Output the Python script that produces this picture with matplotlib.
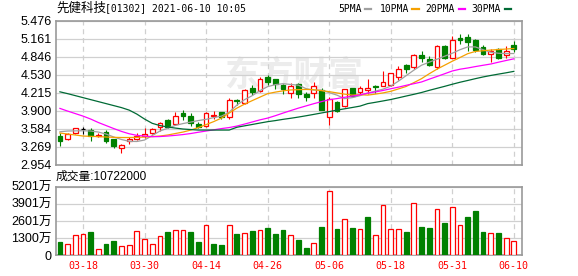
import matplotlib
matplotlib.use("Agg")
import matplotlib.pyplot as plt
import numpy as np

# K线数据 (2021-03-15 .. 2021-06-10)
dates = ["03-15", "03-16", "03-17", "03-18", "03-19", "03-22", "03-23", "03-24", "03-25", "03-26",
         "03-29", "03-30", "03-31", "04-01", "04-07", "04-08", "04-09", "04-12", "04-13", "04-14",
         "04-15", "04-16", "04-19", "04-20", "04-21", "04-22", "04-23", "04-26", "04-27", "04-28",
         "04-29", "04-30", "05-03", "05-04", "05-05", "05-06", "05-07", "05-10", "05-11", "05-12",
         "05-13", "05-14", "05-17", "05-18", "05-20", "05-21", "05-24", "05-25", "05-26", "05-27",
         "05-28", "05-31", "06-01", "06-02", "06-03", "06-04", "06-07", "06-08", "06-09", "06-10"]

opens = [3.457, 3.398, 3.504, 3.574, 3.562, 3.465, 3.533, 3.399, 3.247, 3.364,
         3.399, 3.457, 3.515, 3.609, 3.737, 3.662, 3.865, 3.807, 3.667, 3.632,
         3.800, 3.877, 3.795, 4.090, 4.030, 4.298, 4.240, 4.485, 4.450, 4.345,
         4.205, 4.362, 4.193, 4.205, 4.263, 3.784, 4.058, 3.982, 4.292, 4.222,
         4.257, 4.330, 4.338, 4.350, 4.495, 4.700, 4.670, 4.875, 4.806, 4.670,
         5.038, 4.828, 5.170, 5.196, 5.138, 5.021, 4.905, 4.993, 4.888, 5.050]
highs = [3.515, 3.505, 3.600, 3.620, 3.592, 3.510, 3.562, 3.410, 3.317, 3.445,
         3.510, 3.590, 3.600, 3.700, 3.760, 3.880, 3.910, 3.860, 3.700, 3.880,
         3.900, 3.877, 4.120, 4.105, 4.290, 4.350, 4.490, 4.525, 4.450, 4.370,
         4.380, 4.380, 4.230, 4.400, 4.300, 4.140, 4.080, 4.290, 4.292, 4.330,
         4.455, 4.360, 4.595, 4.570, 4.680, 4.730, 4.905, 4.945, 4.860, 5.050,
         5.060, 5.210, 5.255, 5.240, 5.160, 5.050, 4.990, 5.000, 5.040, 5.120]
lows = [3.282, 3.385, 3.495, 3.492, 3.375, 3.440, 3.340, 3.250, 3.165, 3.312,
        3.380, 3.430, 3.490, 3.540, 3.590, 3.650, 3.740, 3.630, 3.590, 3.620,
        3.750, 3.760, 3.760, 4.000, 4.020, 4.170, 4.230, 4.350, 4.290, 4.190,
        4.130, 4.120, 4.080, 4.130, 3.910, 3.645, 3.880, 3.970, 4.140, 4.190,
        4.187, 4.205, 4.338, 4.330, 4.440, 4.570, 4.630, 4.760, 4.690, 4.640,
        4.810, 4.820, 5.080, 4.945, 4.930, 4.880, 4.760, 4.810, 4.830, 4.930]
closes = [3.370, 3.490, 3.592, 3.574, 3.457, 3.480, 3.375, 3.282, 3.294, 3.399,
          3.457, 3.490, 3.574, 3.679, 3.620, 3.807, 3.812, 3.679, 3.620, 3.865,
          3.820, 3.784, 4.087, 4.080, 4.263, 4.228, 4.450, 4.403, 4.368, 4.275,
          4.333, 4.193, 4.146, 4.333, 3.912, 4.100, 3.900, 4.286, 4.158, 4.303,
          4.298, 4.310, 4.397, 4.555, 4.642, 4.640, 4.875, 4.835, 4.700, 5.033,
          4.828, 5.138, 5.150, 5.108, 4.963, 4.905, 4.945, 4.818, 4.945, 4.993]

ma5 = [3.532, 3.545, 3.548, 3.550, 3.545, 3.527, 3.492, 3.440, 3.396, 3.364,
       3.361, 3.387, 3.466, 3.545, 3.594, 3.644, 3.676, 3.702, 3.729, 3.750,
       3.781, 3.807, 3.877, 4.000, 4.096, 4.166, 4.254, 4.324, 4.359, 4.376,
       4.362, 4.350, 4.289, 4.263, 4.263, 4.219, 4.175, 4.114, 4.131, 4.166,
       4.210, 4.245, 4.280, 4.333, 4.420, 4.517, 4.613, 4.700, 4.753, 4.805,
       4.858, 4.910, 4.972, 5.021, 5.021, 4.972, 4.928, 4.910, 4.905, 4.905]
ma10 = [3.510, 3.492, 3.475, 3.457, 3.452, 3.447, 3.440, 3.434, 3.431, 3.431,
        3.434, 3.440, 3.448, 3.457, 3.475, 3.501, 3.527, 3.562, 3.606, 3.658,
        3.711, 3.772, 3.860, 3.947, 4.017, 4.079, 4.140, 4.201, 4.228, 4.250,
        4.266, 4.271, 4.275, 4.270, 4.254, 4.236, 4.214, 4.193, 4.175, 4.184,
        4.175, 4.193, 4.214, 4.242, 4.284, 4.327, 4.394, 4.464, 4.550, 4.630,
        4.700, 4.770, 4.835, 4.902, 4.942, 4.954, 4.966, 4.975, 4.984, 4.993]
ma20 = [3.942, 3.895, 3.851, 3.807, 3.755, 3.694, 3.641, 3.588, 3.538, 3.497,
        3.469, 3.457, 3.445, 3.448, 3.457, 3.469, 3.483, 3.501, 3.524, 3.545,
        3.566, 3.588, 3.606, 3.632, 3.667, 3.704, 3.741, 3.772, 3.814, 3.860,
        3.904, 3.947, 3.986, 4.025, 4.061, 4.095, 4.114, 4.137, 4.158, 4.179,
        4.210, 4.231, 4.257, 4.287, 4.315, 4.347, 4.376, 4.406, 4.455, 4.502,
        4.550, 4.599, 4.630, 4.651, 4.676, 4.699, 4.721, 4.753, 4.783, 4.812]
ma30 = [4.233, 4.201, 4.166, 4.131, 4.096, 4.061, 4.026, 3.991, 3.956, 3.912,
        3.842, 3.755, 3.680, 3.641, 3.615, 3.597, 3.580, 3.571, 3.562, 3.562,
        3.562, 3.562, 3.562, 3.611, 3.636, 3.660, 3.685, 3.709, 3.728, 3.750,
        3.769, 3.790, 3.813, 3.837, 3.862, 3.886, 3.912, 3.935, 3.958, 3.982,
        4.026, 4.049, 4.073, 4.098, 4.128, 4.159, 4.189, 4.221, 4.259, 4.294,
        4.329, 4.366, 4.401, 4.432, 4.464, 4.494, 4.520, 4.544, 4.567, 4.592]

# 成交量 (万)
volumes = [980, 882, 1562, 1638, 1739, 504, 832, 1058, 680, 806,
           1865, 1210, 882, 1436, 1739, 1890, 1890, 1739, 983, 2268,
           882, 756, 2268, 1588, 1714, 1814, 1890, 2066, 1588, 1890,
           1562, 1134, 529, 958, 2117, 4838, 1966, 2772, 2041, 1966,
           2873, 1562, 3830, 1966, 1966, 1739, 3982, 2117, 2041, 3478,
           2419, 3629, 2268, 2873, 3326, 1739, 1663, 1663, 1285, 1072]
vol_up = [0, 1, 1, 1, 0, 1, 0, 0, 1, 1,
          1, 1, 1, 1, 0, 1, 1, 0, 0, 1,
          0, 0, 1, 0, 1, 0, 1, 0, 0, 0,
          1, 0, 0, 1, 0, 1, 0, 1, 0, 1,
          0, 1, 1, 1, 1, 0, 1, 0, 0, 1,
          0, 1, 1, 0, 0, 0, 1, 0, 1, 1]

price_ticks = [2.954, 3.269, 3.584, 3.900, 4.215, 4.530, 4.846, 5.161, 5.476]
price_labels = ["2.954", "3.269", "3.584", "3.900", "4.215", "4.530", "4.846", "5.161", "5.476"]
vol_ticks = [0, 1300, 2601, 3901, 5201]
vol_labels = ["0", "1300万", "2601万", "3901万", "5201万"]
tick_idx = [3, 11, 19, 27, 35, 43, 51, 59]

RED = "#ff0000"
GREEN = "#008000"
GRID = "#d0d0d0"
FRAME = "#999999"
CJK = ["Liberation Sans", "Noto Sans CJK SC"]
MONO = "DejaVu Sans Mono"

W, H = 578, 276
fig = plt.figure(figsize=(W / 100, H / 100), dpi=100)
ax = fig.add_axes([55.7 / W, 1 - 164.7 / H, 466.6 / W, 143.7 / H])
axv = fig.add_axes([55.7 / W, 1 - 255.3 / H, 466.6 / W, 68.8 / H])

x = np.arange(len(dates))

# Wasserzeichen
ax.text(30.5, 4.53, "东方财富", fontsize=25, color="#ececec", fontweight="bold",
        family=["Noto Sans CJK SC"], ha="center", va="center", zorder=0)

for i in x:
    o, c = opens[i], closes[i]
    if c > o:
        col, face = RED, "white"
    elif c < o:
        col, face = GREEN, GREEN
    else:
        col, face = "black", "black"
    ax.vlines(i, lows[i], highs[i], color=col, lw=0.8, zorder=3)
    ax.bar(i, abs(c - o), bottom=min(o, c), width=0.62, facecolor=face,
           edgecolor=col, lw=0.9, zorder=4)

ax.plot(x, ma5, color="#a0a0a0", lw=0.9, zorder=5)
ax.plot(x, ma10, color="#f5a000", lw=0.9, zorder=5)
ax.plot(x, ma20, color="#ff00ff", lw=0.9, zorder=5)
ax.plot(x, ma30, color="#006a35", lw=0.9, zorder=5)

for i in x:
    if vol_up[i]:
        axv.bar(i, volumes[i], width=0.62, facecolor="white", edgecolor=RED, lw=0.9, zorder=3)
    else:
        axv.bar(i, volumes[i], width=0.62, facecolor=GREEN, edgecolor=GREEN, lw=0.9, zorder=3)

for a, ticks, labels, lim in [(ax, price_ticks, price_labels, (2.954, 5.476)),
                             (axv, vol_ticks, vol_labels, (0, 5201))]:
    a.set_xlim(-0.55, 60.1)
    a.set_ylim(*lim)
    for t in ticks:
        a.axhline(t, color=GRID, lw=0.9, zorder=1)
    for t in tick_idx:
        a.axvline(t, color=GRID, lw=0.9, ls=(0, (4, 3)), zorder=1)
    a.set_yticks(ticks)
    a.set_yticklabels(labels, family=CJK, fontsize=9)
    a.tick_params(axis="y", length=0, pad=3)
    for s in a.spines.values():
        s.set_color(FRAME)
        s.set_linewidth(1.2)

ax.set_xticks([])
axv.set_xticks(tick_idx)
axv.set_xticklabels([dates[i] for i in tick_idx], color=RED, family=MONO, fontsize=7.2)
axv.tick_params(axis="x", length=0, pad=4)

# Titel und Legende
fig.text(56 / W, 1 - 8.5 / H, "先健科技", family=["Noto Sans CJK SC"], fontsize=9, va="center")
fig.text(105 / W, 1 - 8.5 / H, "[01302] 2021-06-10 10:05", family=MONO, fontsize=7, va="center")

legend = [("5PMA", "#a0a0a0", 338.7, 364.7), ("10PMA", "#f5a000", 380.3, 412.0),
          ("20PMA", "#ff00ff", 425.3, 458.7), ("30PMA", "#006a35", 471.3, 504.7)]
for name, col, tx, lx in legend:
    fig.text(tx / W, 1 - 9.3 / H, name, family=MONO, fontsize=7, va="center")
    fig.add_artist(plt.Line2D([lx / W, (lx + 6.5) / W], [1 - 9.3 / H] * 2, color=col, lw=1.6))

fig.text(56 / W, 1 - 176.7 / H, "成交量:10722000", family=CJK, fontsize=8.5, va="center")

fig.savefig("out.png", dpi=100)
